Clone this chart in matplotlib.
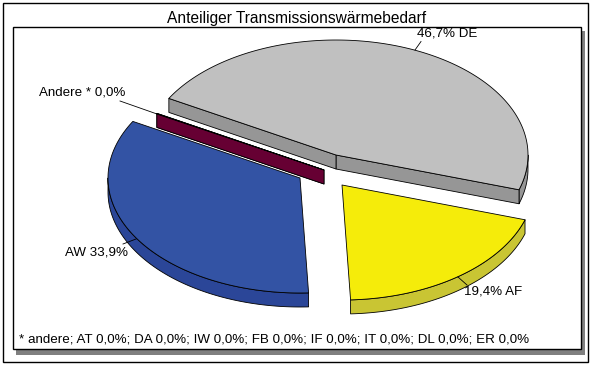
import numpy as np
import matplotlib
matplotlib.use("Agg")
import matplotlib.pyplot as plt
from matplotlib.patches import Polygon, Rectangle

plt.rcParams['font.family'] = ['Liberation Sans', 'DejaVu Sans']

title = "Anteiliger Transmissionswärmebedarf"
categories = ["DE", "Andere *", "AW", "AF"]
values = [46.7, 0.0, 33.9, 19.4]
footnote = "* andere; AT 0,0%; DA 0,0%; IW 0,0%; FB 0,0%; IF 0,0%; IT 0,0%; DL 0,0%; ER 0,0%"
labels = ["46,7% DE", "Andere * 0,0%", "AW 33,9%", "19,4% AF"]

top_colors = ["#C0C0C0", "#660033", "#3353A4", "#F5EC0A"]
side_colors = ["#969696", "#660033", "#2B4698", "#C9C533"]
apexes = [(336, 155), (324, 170), (300, 178), (342, 185)]
RX, RY, DEPTH = 192, 115, 14
START = -17.6

fig = plt.figure(figsize=(5.91, 3.65), dpi=100, facecolor="white")
ax = fig.add_axes([0, 0, 1, 1])
ax.set_xlim(0, 591)
ax.set_ylim(365, 0)
ax.axis("off")

# frames
ax.add_patch(Rectangle((3, 2.5), 584.5, 359, fc="white", ec="black", lw=1.0, zorder=0))
ax.add_patch(Rectangle((16, 31), 569, 323.5, fc="#808080", ec="none", zorder=0.5))
ax.add_patch(Rectangle((12.5, 27), 568, 322, fc="white", ec="black", lw=1.0, zorder=1))


def arc(cx, cy, a0, a1, dz=0):
    t = np.radians(np.linspace(a0, a1, max(int(abs(a1 - a0)) * 2, 2)))
    return np.column_stack([cx + RX * np.cos(t), cy - RY * np.sin(t) + dz])


edge = dict(ec="black", lw=0.6, joinstyle="round")
total = sum(values)
a0 = START
for i, v in enumerate(values):
    a1 = a0 + v / total * 360
    cx, cy = apexes[i]
    z = 2 + i
    # visible part of the rim (the lower half of the ellipse plus right side)
    vis = []
    for lo, hi in [(180, 360), (540, 720), (-180, 0)]:
        s, e = max(a0, lo), min(a1, hi)
        if e > s:
            vis.append((s, e))
    for s, e in vis:
        top = arc(cx, cy, s, e)
        bot = arc(cx, cy, s, e, DEPTH)
        ax.add_patch(Polygon(np.vstack([top, bot[::-1]]), closed=True,
                             fc=side_colors[i], zorder=z, **edge))
    # cut faces
    for ang in (a0, a1):
        if i in (0, 1):
            p = arc(cx, cy, ang, ang + 0.001)[0]
            q = np.array([[cx, cy], p, p + [0, DEPTH], [cx, cy + DEPTH]])
            ax.add_patch(Polygon(q, closed=True, fc=side_colors[i], zorder=z, **edge))
    top = np.vstack([[cx, cy], arc(cx, cy, a0, a1 if a1 > a0 else a0 + 0.3)])
    ax.add_patch(Polygon(top, closed=True, fc=top_colors[i], zorder=z + 0.1, **edge))
    a0 = a1

# leader lines
leaders = [((421, 41.5), (415, 50)), ((120, 101), (157, 114)),
           ((123, 244), (136, 239)), ((458, 277), (467, 285))]
for (x0, y0), (x1, y1) in leaders:
    ax.plot([x0, x1], [y0, y1], color="black", lw=0.6, zorder=8)

fs = 9.6
kw = dict(color="black", fontsize=fs, va="center", zorder=9)
ax.text(296.5, 18.5, title, ha="center", color="black", fontsize=11.2, va="center", zorder=9)
ax.text(417, 34, labels[0], ha="left", **kw)
ax.text(39, 92.5, labels[1], ha="left", **kw)
ax.text(65, 252.5, labels[2], ha="left", **kw)
ax.text(464, 291, labels[3], ha="left", **kw)
ax.text(19, 339.5, footnote, ha="left", **kw)

fig.savefig("out.png", dpi=100, facecolor="white")
